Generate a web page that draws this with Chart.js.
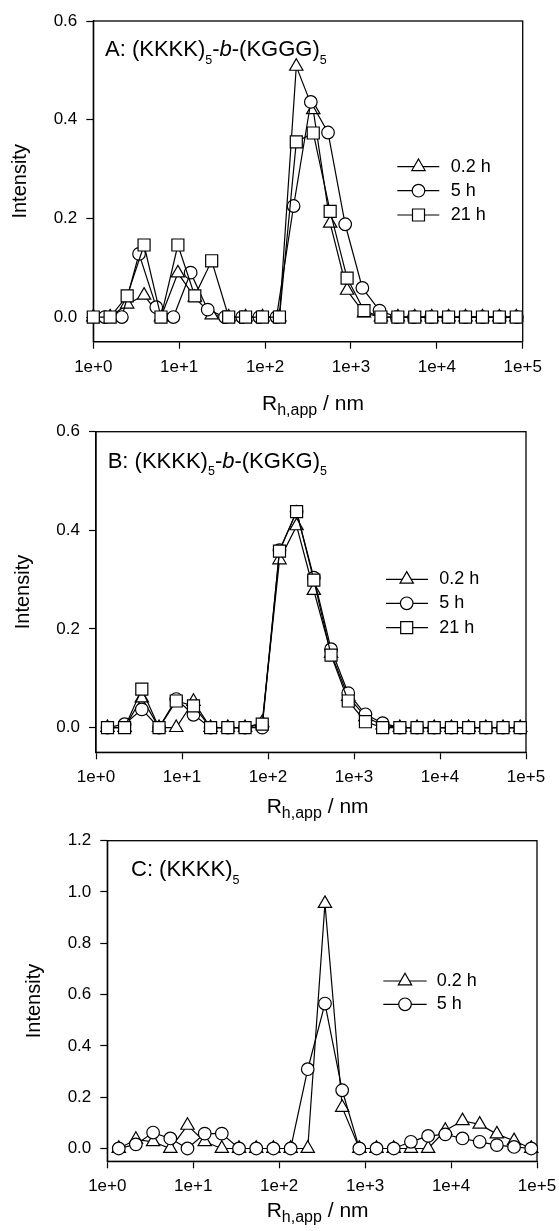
<!DOCTYPE html>
<html><head><meta charset="utf-8">
<script src="https://cdn.jsdelivr.net/npm/chart.js"></script>
<style>
html,body{margin:0;padding:0;background:#fff;}
#wrap{position:relative;width:559px;height:1231px;overflow:hidden;font-family:"Liberation Sans",Arial,Helvetica,sans-serif;color:#000;}
canvas{position:absolute;left:0;}
.lbl{position:absolute;white-space:nowrap;line-height:1;font-size:22px;z-index:2;}
.lbl .s{font-size:12.5px;position:relative;top:7.5px;}
.xt{position:absolute;white-space:nowrap;line-height:1;font-size:21px;z-index:2;}
.xt .s{font-size:16px;position:relative;top:5px;}
</style></head>
<body><div id="wrap">
<canvas id="cA" width="559" height="410" style="top:0px"></canvas>
<canvas id="cB" width="559" height="410" style="top:410px"></canvas>
<canvas id="cC" width="559" height="411" style="top:820px"></canvas>
<div class="lbl" style="left:105px;top:38.1px">A: (KKKK)<span class="s">5</span>-<i>b</i>-(KGGG)<span class="s">5</span></div>
<div class="lbl" style="left:107.7px;top:449.7px">B: (KKKK)<span class="s">5</span>-<i>b</i>-(KGKG)<span class="s">5</span></div>
<div class="lbl" style="left:131px;top:858.1px">C: (KKKK)<span class="s">5</span></div>
<div class="xt" style="left:262px;top:391.7px">R<span class="s">h,app</span> / nm</div>
<div class="xt" style="left:266.7px;top:795.2px">R<span class="s">h,app</span> / nm</div>
<div class="xt" style="left:266.7px;top:1199.2px">R<span class="s">h,app</span> / nm</div>
</div>
<script>
// ---- x positions (R_h,app in nm) ----
const rhGridA = [1.00,1.57,2.48,3.90,6.14,9.66,15.2,23.9,37.7,59.3,93.3,147,231,364,573,902,1419,2234,3516,5534,8710,13709,21577,33963,53456,84140];
const rhGrid  = [1.36,2.15,3.41,5.41,8.57,13.6,21.5,34.1,54.1,85.7,136,215,341,541,857,1358,2153,3412,5408,8570,13583,21528,34119,54075,85704];

// ---- Panel A: (KKKK)5-b-(KGGG)5 ----
const A_tri_02h = [0,0,0.026,0.044,0,0.089,0.040,0.004,0,0,0,0,0.508,0.420,0.190,0.054,0.008,0,0,0,0,0,0,0,0,0];
const A_cir_5h  = [0,0,0.128,0.020,0,0.090,0.015,0,0,0,0,0.225,0.436,0.374,0.188,0.059,0.013,0,0,0,0,0,0,0,0];
const A_sq_21h  = [0,0,0.043,0.146,0,0.146,0.043,0.114,0,0,0,0,0.355,0.373,0.214,0.079,0.013,0,0,0,0,0,0,0,0,0];

// ---- Panel B: (KKKK)5-b-(KGKG)5 ----
const B_tri_02h = [0,0,0.060,0,0,0.053,0,0,0,0.010,0.340,0.409,0.278,0.150,0.063,0.022,0.005,0,0,0,0,0,0,0,0];
const B_cir_5h  = [0,0.007,0.037,0,0.058,0.026,0,0,0,0,0.360,0.438,0.304,0.159,0.070,0.027,0.009,0,0,0,0,0,0,0,0];
const B_sq_21h  = [0,0,0.078,0,0.054,0.044,0,0,0,0.007,0.358,0.438,0.299,0.147,0.054,0.012,0,0,0,0,0,0,0,0,0];

// ---- Panel C: (KKKK)5 ----
const C_tri_02h = [0,0.035,0.026,0,0.090,0.026,0,0,0,0,0,0,0.955,0.160,0,0,0,0,0,0.070,0.108,0.094,0.056,0.030,0];
const C_cir_5h  = [0,0.016,0.062,0.039,0,0.058,0.058,0,0,0,0,0.309,0.565,0.227,0,0,0,0.026,0.049,0.055,0.039,0.026,0.013,0.006,0];

// ---- ticks / labels ----
const xTickValues = [1,10,100,1000,10000,100000];
const xTickLabels = ['1e+0','1e+1','1e+2','1e+3','1e+4','1e+5'];
const yTicksAB = [0,0.2,0.4,0.6];
const yTicksC  = [0,0.2,0.4,0.6,0.8,1.0,1.2];
const seriesLabels = ['0.2 h','5 h','21 h'];

Chart.defaults.font.family = '"Liberation Sans", Arial, Helvetica, sans-serif';
Chart.defaults.color = '#000';

const STY = {
  triangle:{style:'triangle', r:7.7},
  circle:{style:'circle', r:6.3},
  rect:{style:'rect', r:8.5}
};

function pts(xs, ys){ return ys.map((y,i)=>({x:xs[i], y:y})); }

function drawShape(ctx, style, x, y, r){
  ctx.beginPath();
  if(style==='triangle'){
    ctx.moveTo(x, y - r);
    ctx.lineTo(x + 0.866*r, y + 0.5*r);
    ctx.lineTo(x - 0.866*r, y + 0.5*r);
    ctx.closePath();
  } else if(style==='circle'){
    ctx.arc(x, y, r, 0, Math.PI*2);
  } else {
    const h = r*Math.SQRT1_2;
    ctx.rect(x-h, y-h, 2*h, 2*h);
  }
  ctx.fillStyle='#fff'; ctx.fill();
  ctx.lineWidth=1.2; ctx.strokeStyle='#000'; ctx.stroke();
}

const framePlugin = {
  id:'frame',
  beforeDatasetsDraw(chart){
    const a = chart.chartArea, ctx = chart.ctx;
    ctx.save();
    ctx.strokeStyle='#000'; ctx.lineWidth=1.3;
    ctx.strokeRect(a.left, a.top, a.right-a.left, a.bottom-a.top);
    ctx.restore();
  }
};

const legendPlugin = {
  id:'boxLegend',
  afterDraw(chart, args, opts){
    if(!opts || !opts.rows) return;
    const ctx = chart.ctx;
    ctx.save();
    opts.rows.forEach(row=>{
      ctx.beginPath();
      ctx.moveTo(opts.x0, row.y); ctx.lineTo(opts.x1, row.y);
      ctx.lineWidth=1.2; ctx.strokeStyle='#000'; ctx.stroke();
      drawShape(ctx, STY[row.style].style, opts.xm, row.y, STY[row.style].r);
      ctx.fillStyle='#000';
      ctx.font = '18px "Liberation Sans", Arial, sans-serif';
      ctx.textBaseline='middle'; ctx.textAlign='left';
      ctx.fillText(row.label, opts.xt, row.y);
    });
    ctx.restore();
  }
};

function ds(label, xs, ys, kind, order){
  return {
    label, data: pts(xs, ys), order,
    borderColor:'#000', borderWidth:1.2, tension:0, fill:false, clip:false,
    pointStyle: STY[kind].style, pointRadius: STY[kind].r, pointHoverRadius: STY[kind].r,
    pointBackgroundColor:'#fff', pointBorderColor:'#000', pointBorderWidth:1.2
  };
}

function makeChart(id, datasets, geo, yTicks, ymax, legend){
  return new Chart(document.getElementById(id), {
    type:'line',
    data:{datasets},
    plugins:[framePlugin, legendPlugin],
    options:{
      responsive:false, animation:false, events:[],
      layout:{padding:{left:0, top:geo.top, right:geo.right, bottom:0}},
      plugins:{legend:{display:false}, tooltip:{enabled:false}, title:{display:false}, boxLegend:legend},
      scales:{
        x:{
          type:'logarithmic', min:1, max:100000,
          afterBuildTicks(s){ s.ticks = xTickValues.map(v=>({value:v})); },
          afterFit(s){ s.height = geo.xh; s.paddingLeft=0; s.paddingRight=0; },
          ticks:{ callback:(v)=>{ const i = xTickValues.indexOf(v); return i>=0 ? xTickLabels[i] : ''; },
                  font:{size:17}, color:'#000', padding:8, maxRotation:0, autoSkip:false },
          grid:{display:true, drawOnChartArea:false, drawTicks:true, tickLength:7, tickWidth:1.2, tickColor:'#000'},
          border:{display:true, color:'#000', width:1.3}
        },
        y:{
          type:'linear', min:-0.05, max:ymax,
          afterBuildTicks(s){ s.ticks = yTicks.map(v=>({value:v})); },
          afterFit(s){ s.width = geo.yw; s.paddingTop=0; s.paddingBottom=0; },
          ticks:{ callback:(v)=>Number(v).toFixed(1), font:{size:17}, color:'#000', padding:9 },
          grid:{display:true, drawOnChartArea:false, drawTicks:true, tickLength:7, tickWidth:1.2, tickColor:'#000'},
          border:{display:true, color:'#000', width:1.3},
          title:{display:true, text:'Intensity', font:{size:20}, color:'#000', padding:{top:geo.tpad, bottom:0}}
        }
      }
    }
  });
}

makeChart('cA', [
  ds(seriesLabels[0], rhGridA, A_tri_02h, 'triangle', 2),
  ds(seriesLabels[1], rhGrid,  A_cir_5h,  'circle', 1),
  ds(seriesLabels[2], rhGridA, A_sq_21h,  'rect', 0)
], {top:21, right:36.3, xh:68.3, yw:93.3, tpad:8.5}, yTicksAB, 0.6,
{x0:397.3, x1:439.3, xm:418.5, xt:450.7, rows:[
  {y:166.7, style:'triangle', label:seriesLabels[0]},
  {y:190.7, style:'circle', label:seriesLabels[1]},
  {y:215, style:'rect', label:seriesLabels[2]}]});

makeChart('cB', [
  ds(seriesLabels[0], rhGrid, B_tri_02h, 'triangle', 2),
  ds(seriesLabels[1], rhGrid, B_cir_5h,  'circle', 1),
  ds(seriesLabels[2], rhGrid, B_sq_21h,  'rect', 0)
], {top:21.7, right:33, xh:67.7, yw:96, tpad:11.5}, yTicksAB, 0.6,
{x0:386, x1:428, xm:406.7, xt:439.3, rows:[
  {y:169.3, style:'triangle', label:seriesLabels[0]},
  {y:193.3, style:'circle', label:seriesLabels[1]},
  {y:217.7, style:'rect', label:seriesLabels[2]}]});

makeChart('cC', [
  ds(seriesLabels[0], rhGrid, C_tri_02h, 'triangle', 1),
  ds(seriesLabels[1], rhGrid, C_cir_5h,  'circle', 0)
], {top:20.7, right:22, xh:69.7, yw:107.3, tpad:22.5}, yTicksC, 1.2,
{x0:383.3, x1:426.7, xm:405, xt:436.7, rows:[
  {y:161, style:'triangle', label:seriesLabels[0]},
  {y:184.3, style:'circle', label:seriesLabels[1]}]});
</script>
</body></html>
